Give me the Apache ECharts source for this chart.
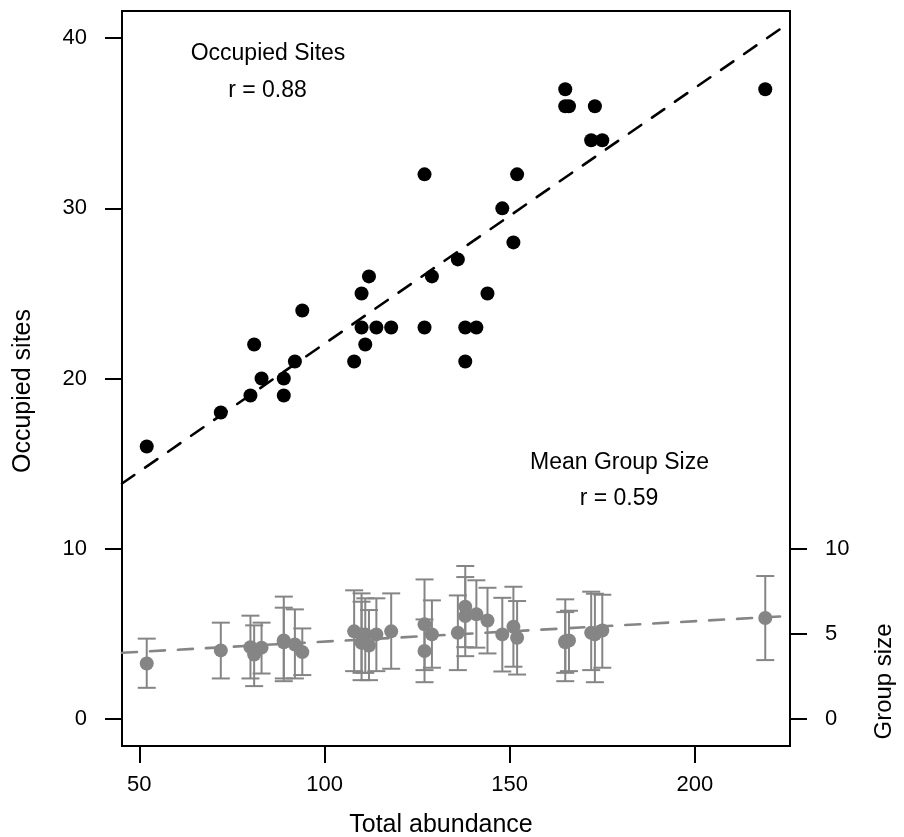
<!DOCTYPE html>
<html>
<head>
<meta charset="utf-8">
<script src="https://cdn.jsdelivr.net/npm/echarts@6/dist/echarts.min.js"></script>
<style>
html,body{margin:0;padding:0;background:#fff;}
#chart{width:904px;height:837px;}
</style>
</head>
<body>
<div id="chart"></div>
<script>
// ---- data ----
const abundance = [52,72,80,81,83,89,89,92,94,108,110,110,111,112,114,118,127,127,129,136,138,138,141,144,148,151,152,165,165,166,172,173,175,219];
const occupiedSites = [16,18,19,22,20,20,19,21,24,21,25,23,22,26,23,23,32,23,26,27,23,21,23,25,30,28,32,37,36,36,34,36,34,37];
const groupMean = [3.25,4.02,4.21,3.78,4.18,4.6,4.5,4.37,3.92,5.14,4.96,4.47,4.96,4.31,4.96,5.14,5.55,3.98,4.96,5.06,6.59,6.04,6.14,5.78,4.96,5.41,4.76,4.55,4.5,4.6,5.06,4.96,5.19,5.92];
const groupLow  = [1.82,2.37,2.37,1.92,2.66,2.21,2.37,2.37,2.57,2.8,2.7,2.27,2.7,2.27,2.8,2.94,2.86,2.15,3.0,2.86,4.21,3.68,4.18,3.84,2.78,3.06,2.6,2.21,2.7,2.8,2.86,2.15,3.0,3.45];
const groupHigh = [4.71,5.65,6.06,5.49,5.65,7.18,6.53,6.43,5.31,7.55,7.37,6.88,7.08,6.39,7.08,7.37,8.19,5.84,6.96,7.25,8.98,8.33,8.14,7.7,7.11,7.76,6.92,7.02,6.27,6.35,7.47,7.35,7.29,8.39];
const xTicks = [50,100,150,200];
const leftTicks = [0,10,20,30,40];
const rightTicks = [0,5,10];

// ---- helpers ----
function linfit(xs, ys){
  const n = xs.length;
  const mx = xs.reduce((a,b)=>a+b,0)/n, my = ys.reduce((a,b)=>a+b,0)/n;
  let sxy=0, sxx=0;
  for(let i=0;i<n;i++){ sxy += (xs[i]-mx)*(ys[i]-my); sxx += (xs[i]-mx)*(xs[i]-mx); }
  const b = sxy/sxx; return {a: my-b*mx, b: b};
}
const xMin = 45.32, xMax = 225.68, yMin = -1.6, yMax = 41.6;
const fitOcc = linfit(abundance, occupiedSites);
const fitGrp = linfit(abundance, groupMean);
const lineOf = f => [[xMin, f.a + f.b*xMin], [xMax, f.a + f.b*xMax]];

const GRAY = '#858585';
const FONT = '"Liberation Sans", Arial, Helvetica, sans-serif';

const chart = echarts.init(document.getElementById('chart'), null, {renderer:'canvas'});
const axisCommon = {
  type:'value', min: yMin, max: yMax,
  axisLine:{show:false, onZero:false},
  splitLine:{show:false},
  axisTick:{show:true, inside:false, length:17, lineStyle:{color:'#000', width:2}},
  axisLabel:{color:'#000', fontSize:22, fontFamily:FONT, margin:35}
};
chart.setOption({
  animation:false,
  backgroundColor:'#fff',
  grid:{left:122, right:114, top:11, bottom:91, show:true, borderColor:'#000', borderWidth:2, backgroundColor:'transparent'},
  xAxis:{
    type:'value', min:xMin, max:xMax, position:'bottom',
    axisLine:{show:false, onZero:false}, splitLine:{show:false},
    axisTick:{show:true, inside:false, length:17, customValues:xTicks, lineStyle:{color:'#000', width:2}},
    axisLabel:{color:'#000', fontSize:22, fontFamily:FONT, margin:28, customValues:xTicks}
  },
  yAxis:[
    Object.assign({}, axisCommon, {position:'left',
      axisTick:Object.assign({}, axisCommon.axisTick, {customValues:leftTicks}),
      axisLabel:Object.assign({}, axisCommon.axisLabel, {customValues:leftTicks})}),
    Object.assign({}, axisCommon, {position:'right',
      axisTick:Object.assign({}, axisCommon.axisTick, {customValues:rightTicks}),
      axisLabel:Object.assign({}, axisCommon.axisLabel, {customValues:rightTicks})})
  ],
  series:[
    {type:'scatter', yAxisIndex:0, symbol:'circle', symbolSize:14, z:3,
      itemStyle:{color:'#000', opacity:1},
      data: abundance.map((x,i)=>[x, occupiedSites[i]])},
    {type:'line', yAxisIndex:0, showSymbol:false, symbol:'none', z:4,
      lineStyle:{color:'#000', width:2.6, type:[15,13], cap:'round'},
      data: lineOf(fitOcc)},
    {type:'custom', yAxisIndex:0, z:2,
      renderItem:function(params, api){
        const x = api.value(0), lo = api.value(1), hi = api.value(2);
        const pL = api.coord([x, lo]), pH = api.coord([x, hi]);
        const hw = 9;
        const st = {stroke:GRAY, lineWidth:2};
        return {type:'group', children:[
          {type:'line', shape:{x1:pL[0], y1:pL[1], x2:pH[0], y2:pH[1]}, style:st},
          {type:'line', shape:{x1:pL[0]-hw, y1:pL[1], x2:pL[0]+hw, y2:pL[1]}, style:st},
          {type:'line', shape:{x1:pH[0]-hw, y1:pH[1], x2:pH[0]+hw, y2:pH[1]}, style:st}
        ]};
      },
      data: abundance.map((x,i)=>[x, groupLow[i], groupHigh[i]])},
    {type:'scatter', yAxisIndex:0, symbol:'circle', symbolSize:14, z:3,
      itemStyle:{color:GRAY, opacity:1},
      data: abundance.map((x,i)=>[x, groupMean[i]])},
    {type:'line', yAxisIndex:0, showSymbol:false, symbol:'none', z:4,
      lineStyle:{color:GRAY, width:2.6, type:[15,13], cap:'round'},
      data: lineOf(fitGrp)}
  ],
  graphic:[
    {type:'text', x:268, y:54, style:{text:'Occupied Sites', fill:'#000', font:'23px '+FONT, textAlign:'center', textVerticalAlign:'middle'}},
    {type:'text', x:267.5, y:91, style:{text:'r = 0.88', fill:'#000', font:'23px '+FONT, textAlign:'center', textVerticalAlign:'middle'}},
    {type:'text', x:619.5, y:463, style:{text:'Mean Group Size', fill:'#000', font:'23px '+FONT, textAlign:'center', textVerticalAlign:'middle'}},
    {type:'text', x:619, y:499, style:{text:'r = 0.59', fill:'#000', font:'23px '+FONT, textAlign:'center', textVerticalAlign:'middle'}},
    {type:'text', x:441, y:825, style:{text:'Total abundance', fill:'#000', font:'25px '+FONT, textAlign:'center', textVerticalAlign:'middle'}},
    {type:'text', x:23, y:391, rotation:Math.PI/2, style:{text:'Occupied sites', fill:'#000', font:'25px '+FONT, textAlign:'center', textVerticalAlign:'middle'}},
    {type:'text', x:884, y:681.5, rotation:Math.PI/2, style:{text:'Group size', fill:'#000', font:'24px '+FONT, textAlign:'center', textVerticalAlign:'middle'}}
  ]
});
</script>
</body>
</html>
